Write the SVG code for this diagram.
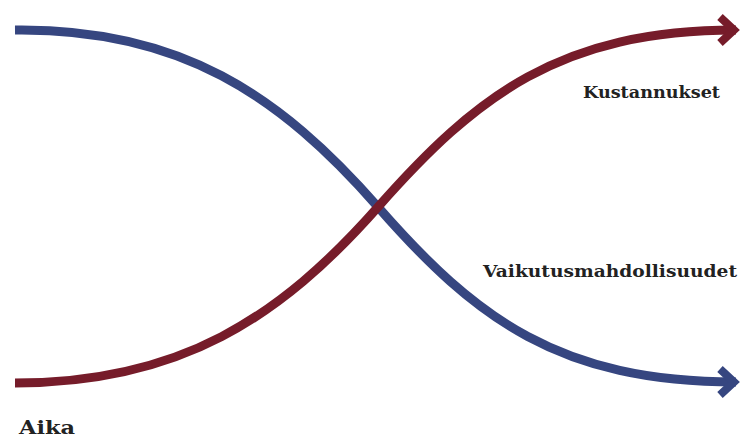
<svg xmlns="http://www.w3.org/2000/svg" width="746" height="441" viewBox="0 0 746 441">
<style>
.curve{fill:none;stroke-width:9;stroke-linecap:butt}
.blue{stroke:#364680}
.red{stroke:#761c2a}
.lbl{font-family:"DejaVu Serif","Liberation Serif",serif;font-weight:bold;fill:#222}
</style>
<defs>
<marker id="arrBlue" markerUnits="userSpaceOnUse" markerWidth="40" markerHeight="40" refX="0" refY="0" orient="auto" overflow="visible" viewBox="-20 -20 40 40">
<path d="M-16,-13 L-2,0 L-16,13" fill="none" stroke="#364680" stroke-width="8" stroke-linejoin="miter"/>
</marker>
<marker id="arrRed" markerUnits="userSpaceOnUse" markerWidth="40" markerHeight="40" refX="0" refY="0" orient="auto" overflow="visible" viewBox="-20 -20 40 40">
<path d="M-16,-13 L-2,0 L-16,13" fill="none" stroke="#761c2a" stroke-width="8" stroke-linejoin="miter"/>
</marker>
</defs>
<rect width="746" height="441" fill="#ffffff"/>
<g id="connectors">
<path id="vaikutus-curve" class="curve blue" d="M15,30 C180,28 280,95 378,207 C476,319 560,382 736,382" marker-end="url(#arrBlue)"/>
<path id="kustannus-curve" class="curve red" d="M15,383 C180,383 280,318 378,207 C476,96 560,30 736,30" marker-end="url(#arrRed)"/>
</g>
<g id="kustannukset">
<text class="lbl" x="583" y="98" font-size="16" textLength="137" lengthAdjust="spacingAndGlyphs">Kustannukset</text>
</g>
<g id="vaikutusmahdollisuudet">
<text class="lbl" x="483" y="277" font-size="17" textLength="254" lengthAdjust="spacingAndGlyphs">Vaikutusmahdollisuudet</text>
</g>
<g id="aika">
<text class="lbl" x="19" y="434" font-size="18" textLength="56" lengthAdjust="spacingAndGlyphs">Aika</text>
</g>
</svg>
